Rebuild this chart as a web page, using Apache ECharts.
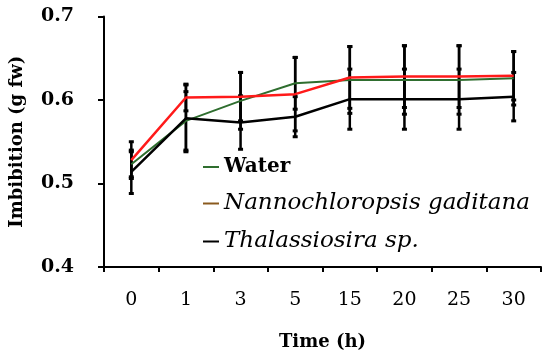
<!DOCTYPE html>
<html>
<head>
<meta charset="utf-8">
<script src="https://cdn.jsdelivr.net/npm/echarts@6/dist/echarts.min.js"></script>
<style>html,body{margin:0;padding:0;background:#fff}#c{width:550px;height:360px}</style>
</head>
<body>
<div id="c"></div>
<script>
var times = ['0', '1', '3', '5', '15', '20', '25', '30'];
var yTicks = [0.4, 0.5, 0.6, 0.7];
var water = [0.523, 0.575, 0.599, 0.620, 0.624, 0.624, 0.624, 0.626];
var nanno = [0.528, 0.603, 0.604, 0.607, 0.627, 0.628, 0.628, 0.629];
var thal  = [0.514, 0.578, 0.573, 0.580, 0.601, 0.601, 0.601, 0.604];
var waterErr = [0.015, 0.035, 0.034, 0.031, 0.040, 0.041, 0.041, 0.032];
var nannoErr = [0.022, 0.016, 0.029, 0.044, 0.037, 0.037, 0.037, 0.029];
var thalErr  = [0.026, 0.040, 0.032, 0.024, 0.036, 0.036, 0.036, 0.029];
var names = ['Water', 'Nannochloropsis gaditana', 'Thalassiosira sp.'];

var FONT = 'DejaVu Serif';
function errData(vals, errs) {
  return vals.map(function (v, i) { return [i, v - errs[i], v + errs[i]]; });
}
function errRender(params, api) {
  var x = api.value(0);
  var lo = api.coord([x, api.value(1)]);
  var hi = api.coord([x, api.value(2)]);
  var st = {stroke: '#000', lineWidth: 2.5};
  return {
    type: 'group',
    children: [
      {type: 'line', shape: {x1: lo[0], y1: lo[1], x2: hi[0], y2: hi[1]}, style: st},
      {type: 'rect', shape: {x: hi[0] - 2.5, y: hi[1] - 1.5, width: 5, height: 3}, style: {fill: '#000'}},
      {type: 'rect', shape: {x: lo[0] - 2.5, y: lo[1] - 1.5, width: 5, height: 3}, style: {fill: '#000'}}
    ]
  };
}
function errSeries(vals, errs) {
  return {type: 'custom', renderItem: errRender, data: errData(vals, errs), z: 1, silent: true,
          encode: {x: 0, y: [1, 2]}};
}
function lineSeries(name, vals, color, w, z) {
  return {name: name, type: 'line', data: vals, symbol: 'none', z: z,
          lineStyle: {color: color, width: w}, itemStyle: {color: color}};
}

var chart = echarts.init(document.getElementById('c'), null, {renderer: 'canvas'});
chart.setOption({
  animation: false,
  textStyle: {fontFamily: FONT},
  grid: {left: 104, right: 9, top: 16.5, bottom: 93, containLabel: false},
  legend: {
    orient: 'vertical', left: 198, top: 152, itemGap: 15,
    icon: 'rect', itemWidth: 16, itemHeight: 2,
    data: [
      {name: names[0], itemStyle: {color: '#2f6e2f'}},
      {name: names[1], itemStyle: {color: '#8a5a1e'}},
      {name: names[2], itemStyle: {color: '#000'}}
    ],
    formatter: function (n) {
      return n === names[0] ? '{b|' + n + '}' : '{i|' + n + '}';
    },
    textStyle: {
      fontFamily: FONT, fontSize: 20, color: '#000', lineHeight: 20,
      rich: {
        b: {fontFamily: FONT, fontSize: 20, fontWeight: 'bold', color: '#000', lineHeight: 20},
        i: {fontFamily: FONT, fontSize: 23, fontStyle: 'italic', color: '#000', lineHeight: 20}
      }
    }
  },
  xAxis: {
    type: 'category', data: times, boundaryGap: true,
    name: 'Time (h)', nameLocation: 'middle', nameGap: 66,
    nameTextStyle: {fontFamily: FONT, fontSize: 18, fontWeight: 'bold', color: '#000'},
    axisLine: {lineStyle: {color: '#000', width: 2}},
    axisTick: {show: true, length: 5, lineStyle: {color: '#000', width: 2}},
    axisLabel: {fontFamily: FONT, fontSize: 19, color: '#000', margin: 24}
  },
  yAxis: {
    type: 'value', min: yTicks[0], max: yTicks[yTicks.length - 1], interval: 0.1,
    name: 'Imbibition (g fw)', nameLocation: 'middle', nameGap: 78,
    nameTextStyle: {fontFamily: FONT, fontSize: 18, fontWeight: 'bold', color: '#000'},
    axisLine: {show: true, lineStyle: {color: '#000', width: 2}},
    axisTick: {show: true, length: 6, lineStyle: {color: '#000', width: 2}},
    splitLine: {show: false},
    axisLabel: {fontFamily: FONT, fontSize: 19, fontWeight: 'bold', color: '#000', margin: 30,
                formatter: function (v) { return v.toFixed(1); }}
  },
  series: [
    errSeries(water, waterErr),
    errSeries(nanno, nannoErr),
    errSeries(thal, thalErr),
    lineSeries(names[0], water, '#2f6e2f', 2, 3),
    lineSeries(names[2], thal, '#000', 2.5, 4),
    lineSeries(names[1], nanno, '#ff1a1a', 2.5, 5)
  ]
});
</script>
</body>
</html>
